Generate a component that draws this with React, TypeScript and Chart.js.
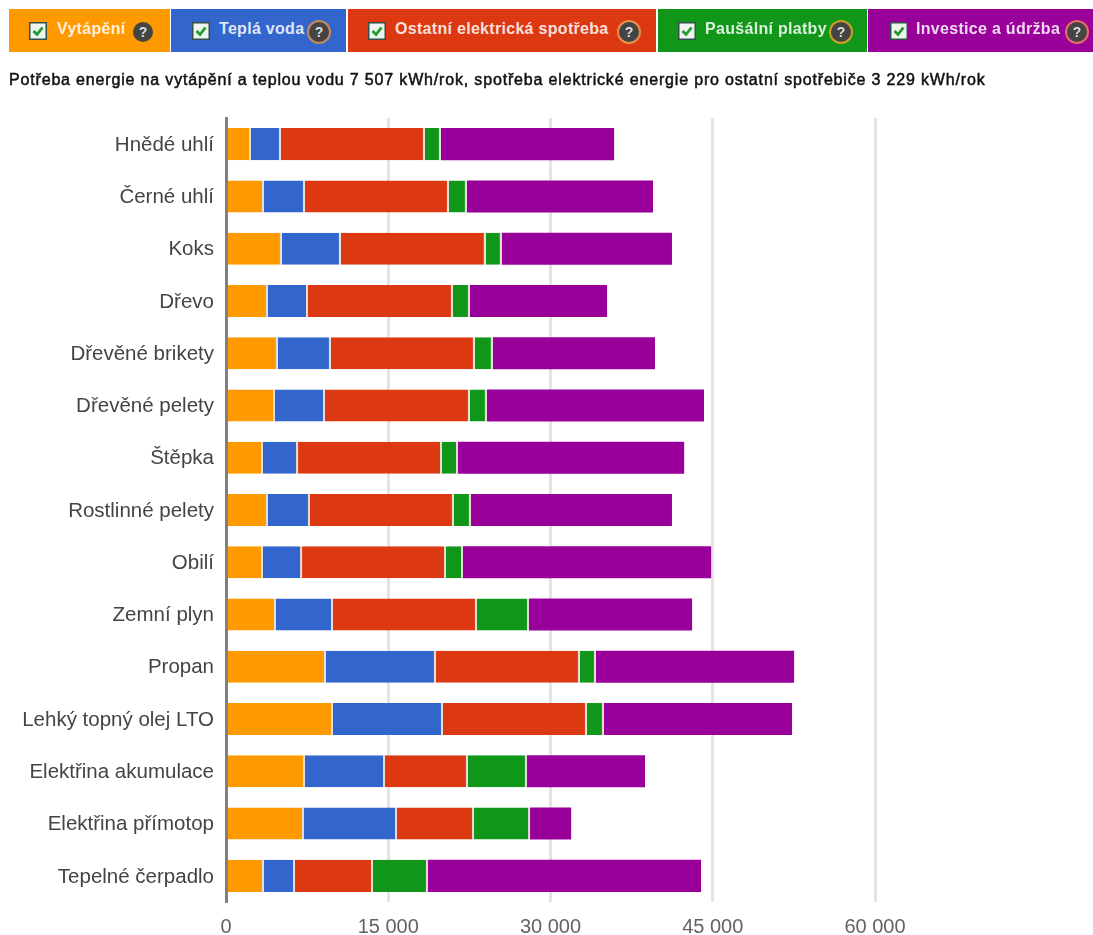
import React, { useEffect, useRef } from "react";
import { Chart, registerables } from "chart.js";

Chart.register(...registerables);

const categories = ["Hnědé uhlí", "Černé uhlí", "Koks", "Dřevo", "Dřevěné brikety", "Dřevěné pelety", "Štěpka", "Rostlinné pelety", "Obilí", "Zemní plyn", "Propan", "Lehký topný olej LTO", "Elektřina akumulace", "Elektřina přímotop", "Tepelné čerpadlo"];
const vytapeni = [2310, 3510, 5170, 3880, 4800, 4530, 3420, 3880, 3420, 4620, 9240, 9890, 7300, 7210, 3510];
const teplaVoda = [2770, 3790, 5450, 3700, 4900, 4620, 3240, 3880, 3610, 5270, 10170, 10170, 7400, 8600, 2870];
const ostatni = [13310, 13310, 13400, 13400, 13310, 13400, 13310, 13310, 13310, 13310, 13310, 13310, 7670, 7120, 7210];
const pausalni = [1480, 1660, 1480, 1570, 1660, 1570, 1480, 1570, 1570, 4810, 1480, 1570, 5450, 5180, 5080];
const investice = [16010, 17210, 15730, 12680, 14990, 20070, 20910, 18590, 22940, 15080, 18320, 17390, 10920, 3800, 25250];
const xTicks = [0, 15000, 30000, 45000, 60000];

const seriesNames = ["Vytápění", "Teplá voda", "Ostatní elektrická spotřeba", "Paušální platby", "Investice a údržba"];
const seriesColors = ["#ff9900", "#3366cc", "#dc3912", "#109618", "#990099"];
const seriesValues = [vytapeni, teplaVoda, ostatni, pausalni, investice];
const subtitle = "Potřeba energie na vytápění a teplou vodu 7 507 kWh/rok, spotřeba elektrické energie pro ostatní spotřebiče 3 229 kWh/rok";

const tiles = [
  { left: 9, width: 161, check: 20, text: 48, help: 124, ring: "" },
  { left: 171, width: 175, check: 21, text: 48, help: 138, ring: "#c98a5a" },
  { left: 348, width: 308, check: 20, text: 47, help: 271, ring: "#e8904a" },
  { left: 658, width: 209, check: 20, text: 47, help: 173, ring: "#c9a020" },
  { left: 868, width: 225, check: 22, text: 48, help: 199, ring: "#e86a6a" },
];

const font = '"Liberation Sans", Arial, sans-serif';

function App() {
  const ref = useRef<HTMLCanvasElement | null>(null);
  useEffect(() => {
    if (!ref.current) return;
    const chart = new Chart(ref.current, {
      type: "bar",
      data: {
        labels: categories,
        datasets: seriesNames.map((label, i) => ({
          label,
          data: seriesValues[i],
          backgroundColor: seriesColors[i],
          borderColor: "#e4dcd4",
          borderWidth: { right: i === 4 ? 0 : 2, left: 0, top: 0, bottom: 0 },
          borderSkipped: false,
          categoryPercentage: 1,
          barPercentage: 0.613,
        })),
      },
      options: {
        indexAxis: "y",
        responsive: false,
        animation: false,
        layout: { padding: { top: 118, right: 218, bottom: 0, left: 0 } },
        plugins: { legend: { display: false }, tooltip: { enabled: false } },
        scales: {
          x: {
            stacked: true,
            min: 0,
            max: 60000,
            afterBuildTicks: (axis: any) => {
              axis.ticks = xTicks.map((value) => ({ value }));
            },
            afterFit: (axis: any) => {
              axis.height = 33;
            },
            grid: {
              color: (c: any) => (c.tick && c.tick.value === 0 ? "rgba(0,0,0,0)" : "#e4e4e4"),
              lineWidth: 3,
              drawTicks: false,
            },
            border: { display: false },
            ticks: {
              autoSkip: false,
              maxRotation: 0,
              padding: 13,
              color: "#636363",
              font: { family: font, size: 20 },
              callback: (v: any) => String(v).replace(/\B(?=(\d{3})+$)/g, " "),
            },
          },
          y: {
            stacked: true,
            afterFit: (axis: any) => {
              axis.width = 226;
            },
            grid: { display: false, drawTicks: false },
            border: { display: true, color: "#808080", width: 3, z: 1 },
            ticks: {
              autoSkip: false,
              padding: 12,
              labelOffset: 1,
              color: "#444444",
              font: { family: font, size: 20.5 },
            },
          },
        },
      },
    } as any);
    return () => chart.destroy();
  }, []);

  return (
    <div style={{ position: "absolute", left: 0, top: 0, width: 1093, height: 935, overflow: "hidden", background: "#fff", fontFamily: font }}>
      <canvas ref={ref} width={1093} height={935} style={{ position: "absolute", left: 0, top: 0 }} />
      {tiles.map((t, i) => (
        <div key={i} style={{ position: "absolute", left: t.left, top: 9, width: t.width, height: 43, background: seriesColors[i] }}>
          <svg width={18} height={18} style={{ position: "absolute", left: t.check, top: 13 }}>
            <rect x={0.75} y={0.75} width={16.5} height={16.5} fill="#eef4ee" stroke="#33514a" strokeWidth={1.5} />
            <path d="M4.5 9 L8 12.5 L13.5 5.5" fill="none" stroke="#1f9a2c" strokeWidth={2.8} />
          </svg>
          <span style={{ position: "absolute", left: t.text, top: 11, color: "rgba(255,255,255,0.85)", fontWeight: 700, fontSize: 16, letterSpacing: 0.3, lineHeight: "18px", whiteSpace: "nowrap" }}>{seriesNames[i]}</span>
          <span style={{ position: "absolute", left: t.help, top: 13, width: 20, height: 20, borderRadius: "50%", background: "#444", color: "#ddd", textAlign: "center", fontWeight: 700, fontSize: 14, lineHeight: "20px", boxShadow: t.ring ? `0 0 0 2px ${t.ring}` : "none" }}>?</span>
        </div>
      ))}
      <div style={{ position: "absolute", left: 9, top: 71, color: "#111", fontWeight: 400, WebkitTextStroke: "0.5px #111", fontSize: 16, letterSpacing: 0.83, lineHeight: "18px", whiteSpace: "nowrap" }}>{subtitle}</div>
    </div>
  );
}

export default App;
